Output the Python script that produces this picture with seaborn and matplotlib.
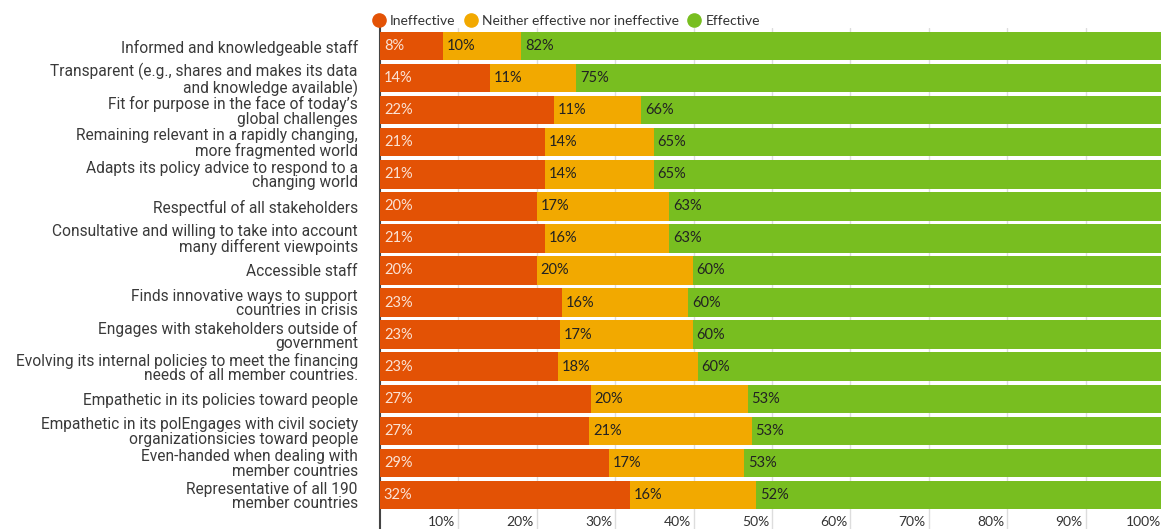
import matplotlib
matplotlib.use("Agg")
import matplotlib.pyplot as plt
import matplotlib.transforms as mtransforms
from matplotlib.lines import Line2D
import seaborn as sns
import pandas as pd

categories = [
    "Informed and knowledgeable staff",
    "Transparent (e.g., shares and makes its data\nand knowledge available)",
    "Fit for purpose in the face of today\u2019s\nglobal challenges",
    "Remaining relevant in a rapidly changing,\nmore fragmented world",
    "Adapts its policy advice to respond to a\nchanging world",
    "Respectful of all stakeholders",
    "Consultative and willing to take into account\nmany different viewpoints",
    "Accessible staff",
    "Finds innovative ways to support\ncountries in crisis",
    "Engages with stakeholders outside of\ngovernment",
    "Evolving its internal policies to meet the financing\nneeds of all member countries.",
    "Empathetic in its policies toward people",
    "Empathetic in its polEngages with civil society\norganizationsicies toward people",
    "Even-handed when dealing with\nmember countries",
    "Representative of all 190\nmember countries",
]
ineffective = [8.0, 14.0, 22.2, 21.0, 21.0, 20.0, 21.0, 20.0, 23.2, 23.0, 22.7, 26.9, 26.7, 29.2, 31.9]
neither = [10.0, 11.0, 11.1, 13.9, 13.9, 16.9, 15.9, 19.9, 16.1, 16.9, 17.8, 20.0, 20.7, 17.2, 16.1]
effective = [82.0, 75.0, 66.4, 65.1, 65.1, 63.1, 63.1, 60.1, 60.4, 60.1, 59.6, 53.1, 52.6, 53.4, 52.0]
series_names = ["Ineffective", "Neither effective nor ineffective", "Effective"]
x_ticks = [10, 20, 30, 40, 50, 60, 70, 80, 90, 100]

RED, YELLOW, GREEN = "#E35205", "#F2A900", "#78BE20"
TXT = "#333333"
NUMFONT = ["Lato", "DejaVu Sans"]

df = pd.DataFrame({"cat": categories, "ineff": ineffective, "neither": neither, "eff": effective})
df["c1"] = df["ineff"]
df["c2"] = df["ineff"] + df["neither"]
df["c3"] = df["c2"] + df["eff"]

sns.set_style("white")
plt.rcParams["font.family"] = ["Roboto", "DejaVu Sans"]

W, H = 1161, 529
fig = plt.figure(figsize=(W / 100, H / 100), dpi=100)
ax_left, ax_right = 380 / W, 1164 / W
ax_top, ax_bot = 1 - 28 / H, 0.0
ax = fig.add_axes([ax_left, ax_bot, ax_right - ax_left, ax_top - ax_bot])

bw = 0.89
common = dict(data=df, y="cat", saturation=1, width=bw, orient="h", ax=ax, linewidth=0)
sns.barplot(x="c3", color=GREEN, zorder=2, **common)
sns.barplot(x="c2", color=YELLOW, zorder=3, **common)
sns.barplot(x="c1", color=RED, zorder=4, **common)

ax.set_xlim(0, 100)
ax.set_ylim(15.06, -0.561)
ax.set_xlabel("")
ax.set_ylabel("")

ax.set_xticks(x_ticks)
ax.set_xticklabels([f"{t}%" for t in x_ticks], fontsize=10, color=TXT, ha="right",
                   family=NUMFONT)
ax.tick_params(axis="x", length=0, pad=-9.5)
off = mtransforms.ScaledTranslation(-3 / 100, 0, fig.dpi_scale_trans)
for lbl in ax.get_xticklabels():
    lbl.set_transform(lbl.get_transform() + off)

ax.tick_params(axis="y", length=0, pad=16)
for lbl in ax.get_yticklabels():
    lbl.set_fontsize(11.2)
    lbl.set_color("#3a3a3a")
    lbl.set_linespacing(0.95)

ax.grid(axis="x", color="#dddddd", linewidth=1, zorder=0)
ax.grid(axis="y", visible=False)
ax.set_axisbelow(True)
for s in ["top", "right", "bottom"]:
    ax.spines[s].set_visible(False)
ax.spines["left"].set_color("#444444")
ax.spines["left"].set_linewidth(1.5)

pad = 0.5
for i, row in df.iterrows():
    ax.text(pad, i, f"{row['ineff']:.0f}%", va="center", ha="left", fontsize=10.5,
            color="#fbe3d6", zorder=6, family=NUMFONT)
    ax.text(row["c1"] + pad, i, f"{row['neither']:.0f}%", va="center", ha="left", fontsize=10.5,
            color="#222222", zorder=6, family=NUMFONT)
    ax.text(row["c2"] + pad, i, f"{row['eff']:.0f}%", va="center", ha="left", fontsize=10.5,
            color="#222222", zorder=6, family=NUMFONT)

handles = [Line2D([0], [0], marker="o", linestyle="", markersize=9.5, markerfacecolor=c,
                  markeredgecolor=c) for c in (RED, YELLOW, GREEN)]
fig.legend(handles, series_names, loc="upper left", bbox_to_anchor=(365 / W, 1 - 9 / H),
           ncol=3, frameon=False, handletextpad=0.2, columnspacing=0.5,
           borderaxespad=0, handlelength=1.2, labelcolor=TXT,
           prop={"family": NUMFONT, "size": 10})

fig.savefig("out.png", dpi=100)
